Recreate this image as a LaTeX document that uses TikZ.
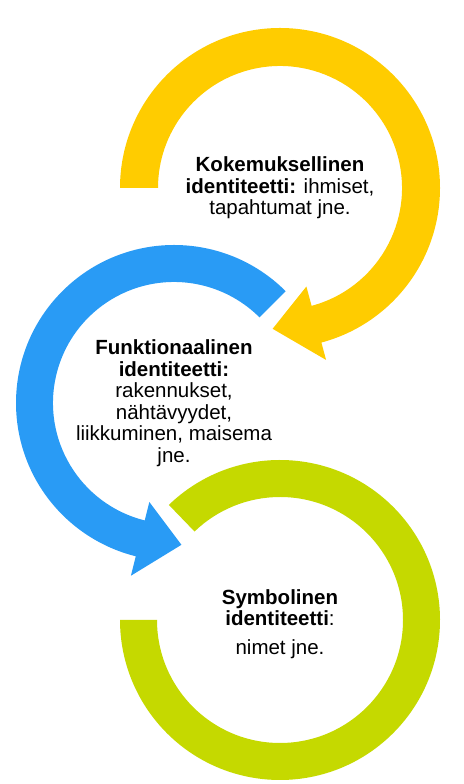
\documentclass[tikz,border=0pt]{standalone}
\usepackage{fontspec}
\setmainfont{Liberation Sans}
\usetikzlibrary{calc}
\definecolor{ringyellow}{RGB}{255,204,0}
\definecolor{ringblue}{RGB}{41,155,245}
\definecolor{ringgreen}{RGB}{197,217,0}

\begin{document}
\begin{tikzpicture}[
    x=1pt, y=1pt,
    textblock/.style={align=center, inner sep=0pt, font=\fontsize{20.5}{21.5}\selectfont},
    ring/.style={draw=none}
]
    \useasboundingbox (0,0) rectangle (463,784);
    \coordinate (kcenter) at (280,596);
    \coordinate (fcenter) at (174,381);
    \coordinate (scenter) at (280,164);

    % green ring, no head
    \fill[ring, ringgreen] ($(scenter)+(134:160)$) arc[start angle=134, end angle=-180, radius=160]
        -- ($(scenter)+(180:123)$) arc[start angle=-180, end angle=134, radius=123] -- cycle;

    % blue ring with head
    \fill[ring, ringblue] ($(fcenter)+(45:158)$) arc[start angle=45, end angle=256, radius=158]
        -- ($(fcenter)+(256:178)$) -- ($(fcenter)+(273:142)$) -- ($(fcenter)+(256:102)$)
        -- ($(fcenter)+(256:121)$) arc[start angle=256, end angle=45, radius=121] -- cycle;

    % yellow ring with head
    \fill[ring, ringyellow] ($(kcenter)+(180:160)$) arc[start angle=180, end angle=-75, radius=160]
        -- ($(kcenter)+(-75:178)$) -- ($(kcenter)+(-93:141)$) -- ($(kcenter)+(-75:102)$)
        -- ($(kcenter)+(-75:122)$) arc[start angle=-75, end angle=180, radius=122] -- cycle;

    \node[textblock] (kokemus) at (kcenter) {\textbf{Kokemuksellinen}\\\textbf{identiteetti:} ihmiset,\\tapahtumat jne.};
    \node[textblock] (funktio) at (fcenter) {\textbf{Funktionaalinen}\\\textbf{identiteetti:}\\rakennukset,\\nähtävyydet,\\liikkuminen, maisema\\jne.};
    \node[textblock, yshift=-4pt] (symboli) at (scenter) {\textbf{Symbolinen}\\\textbf{identiteetti}:\\[7pt]nimet jne.};
\end{tikzpicture}
\end{document}
